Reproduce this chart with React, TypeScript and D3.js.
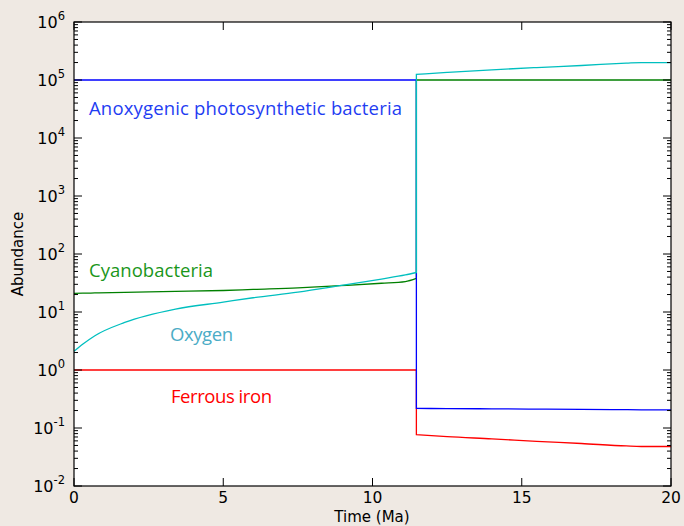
import * as d3 from "d3";

// time axis, Ma (the jump happens at ~11.47 Ma, so that time is listed twice)
const time = [0, 0.3, 0.7, 1.7, 3.4, 5, 6, 7.5, 8.9, 10.3, 11.1, 11.47, 11.47, 12.5, 14, 15.5, 17, 18.5, 19, 20];

const anoxygenic = [1e5, 1e5, 1e5, 1e5, 1e5, 1e5, 1e5, 1e5, 1e5, 1e5, 1e5, 1e5, 0.218, 0.216, 0.214, 0.212, 0.21, 0.207, 0.206, 0.205];
const cyanobacteria = [21, 21.1, 21.3, 21.8, 22.6, 23.5, 24.5, 26, 28.4, 31.3, 33.5, 38, 1e5, 1e5, 1e5, 1e5, 1e5, 1e5, 1e5, 1e5];
const oxygen = [2.1, 2.8, 3.9, 6.6, 11.2, 14.8, 17.6, 22, 28.4, 37, 43.5, 48, 1.25e5, 1.35e5, 1.5e5, 1.64e5, 1.78e5, 1.95e5, 2.0e5, 2.0e5];
const ferrous = [1, 1, 1, 1, 1, 1, 1, 1, 1, 1, 1, 1, 0.077, 0.071, 0.065, 0.059, 0.054, 0.049, 0.048, 0.048];

const xTicks = [0, 5, 10, 15, 20];
const yExponents = [-2, -1, 0, 1, 2, 3, 4, 5, 6];

const W = 684;
const H = 526;
const left = 74, right = 671, top = 22, bottom = 486;
const jumpIndex = 12; // first index after the transition

export default function App() {
  const x = d3.scaleLinear().domain([0, 20]).range([left, right]);
  const y = d3.scaleLog().domain([1e-2, 1e6]).range([bottom, top]);

  // smooth each side of the jump separately, join them with a straight vertical
  const line = (vals: number[]) => {
    const pts = vals.map((v, i) => [x(time[i]), y(v)] as [number, number]);
    const gen = d3.line().curve(d3.curveMonotoneX);
    const pre = gen(pts.slice(0, jumpIndex)) || "";
    const post = (gen(pts.slice(jumpIndex)) || "").replace(/^M/, "L");
    return pre + post;
  };

  const series = [
    { vals: ferrous, color: "#ff0000" },
    { vals: cyanobacteria, color: "#008000" },
    { vals: anoxygenic, color: "#0000ff" },
    { vals: oxygen, color: "#00bfbf" },
  ];

  const minor: number[] = [];
  for (let e = -2; e < 6; e++) {
    for (let m = 2; m <= 9; m++) minor.push(m * Math.pow(10, e));
  }

  const tickFont = "DejaVu Sans";
  const labelFont = "'Open Sans', 'Noto Sans', sans-serif";

  return (
    <svg width={W} height={H} style={{ position: "absolute", left: 0, top: 0 }}>
      <rect x={0} y={0} width={W} height={H} fill="#efe9e3" />
      <rect x={left} y={top} width={right - left} height={bottom - top} fill="#ffffff" />

      <g fill="none" strokeWidth={1.3}>
        {series.map((s, i) => (
          <path key={i} d={line(s.vals)} stroke={s.color} />
        ))}
      </g>

      {/* ticks */}
      <g stroke="#000" strokeWidth={1}>
        {yExponents.map((e) => (
          <g key={e}>
            <line x1={left} x2={left + 8} y1={y(Math.pow(10, e))} y2={y(Math.pow(10, e))} />
            <line x1={right} x2={right - 8} y1={y(Math.pow(10, e))} y2={y(Math.pow(10, e))} />
          </g>
        ))}
        {minor.map((v, i) => (
          <g key={i}>
            <line x1={left} x2={left + 4} y1={y(v)} y2={y(v)} />
            <line x1={right} x2={right - 4} y1={y(v)} y2={y(v)} />
          </g>
        ))}
        {xTicks.map((t) => (
          <g key={t}>
            <line x1={x(t)} x2={x(t)} y1={bottom} y2={bottom - 8} />
            <line x1={x(t)} x2={x(t)} y1={top} y2={top + 8} />
          </g>
        ))}
      </g>
      <rect x={left} y={top} width={right - left} height={bottom - top} fill="none" stroke="#000" strokeWidth={1.2} />

      {/* tick labels */}
      <g fontFamily={tickFont} fill="#000">
        {yExponents.map((e) => (
          <text key={e} x={65} y={y(Math.pow(10, e)) + 6} textAnchor="end" fontSize={16}>
            10
            <tspan fontSize={11.5} dy={-8}>{e}</tspan>
          </text>
        ))}
        {xTicks.map((t) => (
          <text key={t} x={x(t)} y={503} textAnchor="middle" fontSize={15.5}>
            {t}
          </text>
        ))}
        <text x={372} y={522} textAnchor="middle" fontSize={15}>Time (Ma)</text>
        <text transform="translate(23,254) rotate(-90)" textAnchor="middle" fontSize={15}>Abundance</text>
      </g>

      {/* series labels */}
      <g fontFamily={labelFont} fontSize={18.5}>
        <text x={89} y={115} fill="#1f3df2" textLength={313}>Anoxygenic photosynthetic bacteria</text>
        <text x={89} y={277} fill="#1a961a" textLength={124}>Cyanobacteria</text>
        <text x={170} y={341} fill="#4bacc6" textLength={63}>Oxygen</text>
        <text x={171} y={403} fill="#ff0000" textLength={101}>Ferrous iron</text>
      </g>
    </svg>
  );
}
